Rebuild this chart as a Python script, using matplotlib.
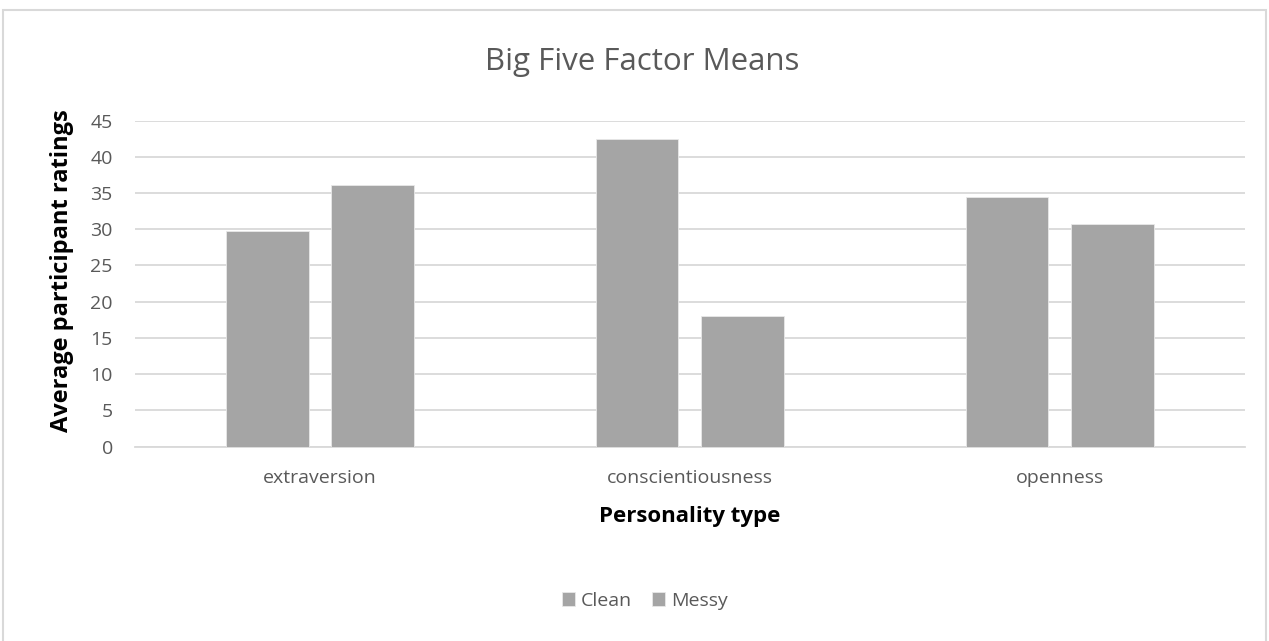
import numpy as np
import matplotlib
matplotlib.use("Agg")
import matplotlib.pyplot as plt
from matplotlib.patches import Rectangle

categories = ["extraversion", "conscientiousness", "openness"]
clean = [29.8, 42.5, 34.4]
messy = [36.1, 18.0, 30.7]
series_names = ["Clean", "Messy"]

plt.rcParams['font.family'] = ['Open Sans', 'DejaVu Sans']
txt = '#595959'
bar_col = '#A5A5A5'
grid_col = '#D9D9D9'

fig = plt.figure(figsize=(12.69, 6.41), dpi=100)
ax = fig.add_axes([0.1064, 0.3031, 0.8746, 0.5089])

x = np.arange(len(categories))
w = 0.224
gap = 0.062
ax.bar(x - (w + gap) / 2, clean, w, color=bar_col, edgecolor='#E8E8E8', linewidth=0.6, label=series_names[0], zorder=3)
ax.bar(x + (w + gap) / 2, messy, w, color=bar_col, edgecolor='#E8E8E8', linewidth=0.6, label=series_names[1], zorder=3)

ax.set_xlim(-0.5, 2.5)
ax.set_ylim(0, 45)
ax.set_yticks(np.arange(0, 46, 5))
ax.yaxis.grid(True, color=grid_col, linewidth=1.3, zorder=0)
for s in ['top', 'right', 'left']:
    ax.spines[s].set_visible(False)
ax.spines['bottom'].set_color(grid_col)
ax.spines['bottom'].set_linewidth(1.3)
ax.tick_params(axis='both', length=0, colors=txt, labelsize=14)
ax.tick_params(axis='x', pad=16)
ax.tick_params(axis='y', pad=16)
ax.set_xticks(x)
ax.set_xticklabels(categories)

ax.set_ylabel("Average participant ratings", fontsize=17, fontweight='bold', color='black')
ax.yaxis.set_label_coords(-0.055, 0.54)
ax.set_xlabel("Personality type", fontsize=16, fontweight='bold', color='black', labelpad=14)

fig.text(0.506, 0.903, "Big Five Factor Means", ha='center', va='center', fontsize=22.5, color=txt)

leg = fig.legend(loc='center', bbox_to_anchor=(0.508, 0.063), ncol=2, frameon=False,
                 fontsize=14, handlelength=0.7, handleheight=0.7, handletextpad=0.3,
                 columnspacing=1.0)
for t in leg.get_texts():
    t.set_color(txt)

fig.patches.append(Rectangle((3 / 1269, -0.01), 1263 / 1269, 1 - 10 / 641 + 0.01,
                             transform=fig.transFigure, fill=False,
                             edgecolor=grid_col, linewidth=1.5))

fig.savefig("out.png", dpi=100, facecolor='white')
